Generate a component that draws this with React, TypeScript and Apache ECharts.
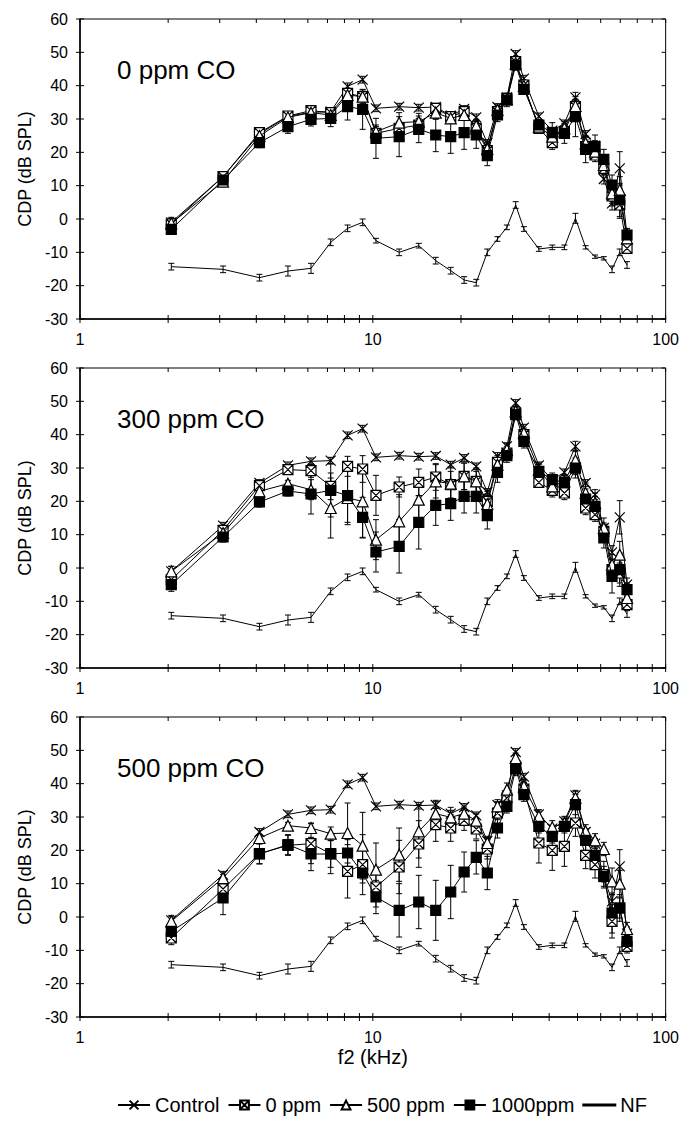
import React, { useEffect, useRef } from "react";
import * as echarts from "echarts";

// f2 frequencies (kHz)
const freqs = [2.05, 3.08, 4.1, 5.13, 6.15, 7.18, 8.2, 9.23, 10.25, 12.3, 14.35, 16.4, 18.45, 20.5, 22.55, 24.6, 26.65, 28.7, 30.75, 32.8, 36.9, 41, 45.1, 49.2, 53.3, 57.4, 61.5, 65.6, 69.7, 73.8];

const xTickVals = [1, 2, 3, 4, 5, 6, 7, 8, 9, 10, 20, 30, 40, 50, 60, 70, 80, 90, 100];
const yTickVals = [-30, -20, -10, 0, 10, 20, 30, 40, 50, 60];
const panelTitles = ["0 ppm CO", "300 ppm CO", "500 ppm CO"];
const seriesNames = ["Control", "0 ppm", "500 ppm", "1000ppm", "NF"];

// Control and noise floor (same in all panels)
const control = [-1, 12.7, 25.5, 30.8, 32, 32.2, 39.8, 41.8, 33.2, 33.7, 33.4, 33.6, 31, 33, 30.5, 22.8, 33.6, 36.5, 49.5, 42.1, 30.8, 26.5, 28.7, 36.5, 25.5, 22, 12, 4.7, 15.2, -5];
const controlErr = [1.5, 1, 1, 1, 1, 1, 1, 1, 1, 1, 1, 1, 1, 1, 1, 1, 1, 1, 1, 1, 1, 1, 1, 1.5, 1, 1.5, 1.5, 2, 5, 2];
const noiseFloor = [-14.3, -15.1, -17.6, -15.6, -14.8, -7, -2.8, -1, -6.5, -10, -8, -12.5, -15.5, -18.3, -19.1, -10, -6, -2.5, 4.2, -3, -9, -8.5, -8.5, 0.2, -8.5, -11.3, -11.8, -15.1, -10, -13.8];
const noiseFloorErr = [1, 1, 1, 1.5, 1.5, 1, 1, 1, 0.7, 1, 0.7, 1, 1, 1, 1, 1, 0.7, 0.7, 1, 0.7, 0.7, 0.7, 0.7, 1.5, 0.5, 0.5, 0.5, 1, 1, 1];

// Panel 1: 0 ppm CO
const p1Zero = [-1.5, 12.7, 25.9, 30.9, 32.5, 31.9, 37.7, 36.7, 25.7, 27.2, 28.2, 33.2, 30.7, 32.2, 27.2, 20.5, 32.2, 36.2, 47.2, 40.2, 27.2, 22.9, 26.2, 33.7, 21.7, 19.2, 15.2, 6.9, 4.2, -8.8];
const p1Five = [-1.3, 11.2, 24.9, 30.5, 31.9, 31.2, 37.2, 36.7, 26.2, 28.9, 29.2, 31.9, 30.2, 31.2, 27.9, 21, 32.7, 35.9, 46.7, 39.9, 27.7, 24.7, 27.2, 33.9, 22.7, 20.2, 16.2, 7.7, 8.7, -5.8];
const p1Thou = [-3.1, 11.7, 22.9, 27.7, 29.9, 30.2, 33.7, 32.9, 24.2, 24.7, 26.9, 25.2, 24.7, 25.9, 25.2, 19, 31.2, 35.7, 46.2, 38.9, 28.2, 25.9, 25.7, 30.7, 20.9, 21.7, 17.9, 10.2, 5.7, -4.8];
const p1ZeroErr = [1.5, 1, 1, 1, 1, 1, 1.5, 1.5, 2, 2, 2, 1.5, 1.5, 1.5, 2, 2, 1.5, 1.5, 1.5, 1.5, 1.5, 2, 2, 2, 2, 2, 2, 3, 4, 1];
const p1FiveErr = [1.5, 1, 1, 1, 1, 1, 1.5, 2, 2, 3, 2.5, 2, 1.5, 1.5, 2, 2, 1.5, 1.5, 1.5, 1.5, 1.5, 2, 2, 2, 2, 2, 2, 3, 4, 2];
const p1ThouErr = [1.5, 1, 1.5, 2, 2, 2.5, 4, 6, 6, 6, 4, 5, 5, 5, 4, 3, 2, 2, 1.5, 1.5, 1.5, 3, 3, 6, 4, 3.5, 3, 3, 5, 2];

// Panel 2: 300 ppm CO
const p2Zero = [-3.5, 11.3, 24.7, 29.5, 29.2, 24.5, 30.5, 29.7, 21.8, 24.3, 25.7, 27.3, 25, 27.5, 26, 20, 31.7, 34.5, 46.5, 40, 25.7, 23.3, 22.5, 30, 18, 16, 11, -0.5, -1.5, -11];
const p2Five = [-1, 10.5, 23, 25.3, 23.5, 18, 21, 20, 8.5, 14, 20.5, 26, 25.3, 27.5, 26, 19.2, 31, 35.5, 47, 40.5, 29.5, 24.5, 26, 32.3, 22.5, 19.5, 12, 1, 4, -9];
const p2Thou = [-5, 9.3, 19.8, 23.1, 22.2, 23.3, 21.7, 15.2, 4.8, 6.5, 13.7, 18.8, 19.3, 21.5, 21.5, 15.7, 28.7, 33.7, 46, 38, 29, 26.5, 25.7, 30, 20.7, 18.5, 9, -2.5, -0.5, -6.5];
const p2ZeroErr = [1.5, 1.5, 1, 1, 2, 4, 3, 4, 6, 3, 4, 4, 4, 4, 3, 3, 2, 2, 1.5, 1.5, 1.5, 2, 2, 2, 2, 2, 2, 2, 3, 1.5];
const p2FiveErr = [1.5, 1.5, 1, 1, 3, 9, 8, 11, 6, 8, 6, 5, 5, 4, 4, 3, 2, 2, 1.5, 1.5, 2, 2, 2, 3, 3, 3, 3, 3, 4, 2];
const p2ThouErr = [2, 1.5, 1.5, 1.5, 6, 8, 8, 6, 6, 8, 8, 6, 5, 5, 5, 4, 3, 2, 1.5, 2, 2, 2, 2, 3, 3, 3, 3, 5, 5, 2];

// Panel 3: 500 ppm CO
const p3Zero = [-6.3, 8.4, 19, 21.5, 22, 19, 13.7, 15.7, 9, 15, 21.9, 27.7, 26.7, 29, 26.4, 20.4, 31.2, 35.7, 45.2, 38.4, 22.2, 20, 21.2, 28.2, 18.5, 15.7, 12.7, -1.3, 2.7, -8.8];
const p3Five = [-1.3, 11.7, 23.7, 27.4, 26.7, 25, 25.2, 21.4, 14.2, 18.7, 25.7, 31, 29.9, 31, 28.9, 22.2, 33.2, 38.2, 47.7, 39.2, 30.2, 26.9, 28.2, 35.7, 25.7, 23, 20.4, 10.7, 10, -3.6];
const p3Thou = [-4.3, 5.7, 18.9, 21.7, 18.9, 18.9, 19.2, 13.2, 6, 2, 4.5, 2, 7.5, 13.5, 17.9, 13.2, 26.7, 33.2, 44.4, 36.7, 27.2, 24.2, 27.2, 33.7, 23, 18.5, 12.2, 1.2, 2.7, -7.3];
const p3ZeroErr = [2, 2, 3, 3, 6, 6, 8, 9, 6, 8, 7, 5, 4, 3, 3, 3, 2, 2, 2, 2, 6, 6, 6, 4, 4, 4, 4, 5, 3, 2];
const p3FiveErr = [1.5, 1, 1, 1, 1.5, 2, 9, 10, 8, 8, 8, 4, 3, 2, 2, 2, 2, 2, 1.5, 2, 2, 2, 2, 2, 2, 2, 2, 4, 4, 2];
const p3ThouErr = [2, 5, 3, 3, 5, 4, 4, 3, 5, 8, 8, 9, 8, 6, 5, 5, 3, 2, 2, 2, 2, 2, 2, 3, 3, 3, 3, 6, 4, 2];

const FONT = "'Liberation Sans', Arial, Helvetica, sans-serif";
const SYM_CROSS = "path://M0,0L10,10M10,0L0,10";
const SYM_XBOX = "path://M0,0L10,0L10,10L0,10Z M0,0L10,10 M10,0L0,10";
const SYM_DASH = "path://M0,0H30V1H0Z";

export default function App() {
  const ref = useRef<HTMLDivElement>(null);
  useEffect(() => {
    document.body.style.margin = "0";
    const chart = echarts.init(ref.current as HTMLDivElement, null, { renderer: "svg" });

    const panels = [
      { vals: [control, p1Zero, p1Five, p1Thou, noiseFloor], errs: [controlErr, p1ZeroErr, p1FiveErr, p1ThouErr, noiseFloorErr] },
      { vals: [control, p2Zero, p2Five, p2Thou, noiseFloor], errs: [controlErr, p2ZeroErr, p2FiveErr, p2ThouErr, noiseFloorErr] },
      { vals: [control, p3Zero, p3Five, p3Thou, noiseFloor], errs: [controlErr, p3ZeroErr, p3FiveErr, p3ThouErr, noiseFloorErr] },
    ];
    const tops = [19, 368, 717];
    const plotH = 300;

    const styles = [
      { symbol: SYM_CROSS, size: 10, fill: "#fff" },
      { symbol: SYM_XBOX, size: 10, fill: "#fff" },
      { symbol: "triangle", size: 11, fill: "#fff" },
      { symbol: "rect", size: 10, fill: "#000" },
      { symbol: "none", size: 0, fill: "#000" },
    ];

    const grids: any[] = [];
    const xAxes: any[] = [];
    const yAxes: any[] = [];
    const series: any[] = [];
    const graphics: any[] = [];

    panels.forEach((p, gi) => {
      grids.push({ left: 80, width: 590, top: tops[gi], height: plotH, show: true, borderColor: "#000", borderWidth: 1, backgroundColor: "transparent" });
      xAxes.push({
        type: "log", logBase: 10, min: 1, max: 100, gridIndex: gi,
        axisLine: { show: true, onZero: false, lineStyle: { color: "#000", width: 1.5 } },
        axisTick: { show: false }, splitLine: { show: false }, minorTick: { show: false },
        axisLabel: { color: "#000", fontSize: 16, fontFamily: FONT, margin: 12 },
        ...(gi === 2 ? { name: "f2 (kHz)", nameLocation: "middle", nameGap: 30, nameTextStyle: { color: "#000", fontSize: 20, fontFamily: FONT } } : {}),
      });
      yAxes.push({
        type: "value", min: -30, max: 60, interval: 10, gridIndex: gi,
        axisLine: { show: true, onZero: false, lineStyle: { color: "#000", width: 1.5 } },
        axisTick: { show: false }, splitLine: { show: false },
        axisLabel: { color: "#000", fontSize: 16, fontFamily: FONT, margin: 12 },
        name: "CDP (dB SPL)", nameLocation: "middle", nameGap: 46,
        nameTextStyle: { color: "#000", fontSize: 18, fontFamily: FONT },
      });

      // error bars
      const errData: number[][] = [];
      p.vals.forEach((vals, si) => {
        vals.forEach((v, i) => {
          const e = p.errs[si][i];
          errData.push([freqs[i], v - e, v + e]);
        });
      });
      series.push({
        type: "custom", name: "errbars", xAxisIndex: gi, yAxisIndex: gi, silent: true, z: 1,
        encode: { x: 0, y: [1, 2] },
        data: errData,
        renderItem: (params: any, api: any) => {
          const x = api.value(0);
          const a = api.coord([x, api.value(1)]);
          const b = api.coord([x, api.value(2)]);
          const w = 3;
          const st = { stroke: "#000", lineWidth: 1 };
          return {
            type: "group",
            children: [
              { type: "line", shape: { x1: a[0], y1: a[1], x2: b[0], y2: b[1] }, style: st },
              { type: "line", shape: { x1: a[0] - w, y1: a[1], x2: a[0] + w, y2: a[1] }, style: st },
              { type: "line", shape: { x1: b[0] - w, y1: b[1], x2: b[0] + w, y2: b[1] }, style: st },
            ],
          };
        },
      });

      p.vals.forEach((vals, si) => {
        const s = styles[si];
        series.push({
          type: "line", name: seriesNames[si], xAxisIndex: gi, yAxisIndex: gi, z: 2 + si,
          data: vals.map((v, i) => [freqs[i], v]),
          symbol: s.symbol, symbolSize: s.size, showSymbol: s.symbol !== "none",
          lineStyle: { color: "#000", width: 1 },
          itemStyle: { color: s.fill, borderColor: "#000", borderWidth: 1.2 },
          emphasis: { disabled: true },
        });
      });

      // frame ticks
      const tickData: number[][] = [];
      xTickVals.forEach((f) => tickData.push([f, -30, 0]));
      yTickVals.forEach((v) => tickData.push([1, v, 1]));
      series.push({
        type: "custom", name: "ticks", xAxisIndex: gi, yAxisIndex: gi, silent: true, z: 10,
        encode: { x: 0, y: 1 },
        data: tickData,
        renderItem: (params: any, api: any) => {
          const kind = api.value(2);
          const st = { stroke: "#000", lineWidth: 1 };
          if (kind === 0) {
            const f = api.value(0);
            const b = api.coord([f, -30]);
            const t = api.coord([f, 60]);
            return {
              type: "group",
              children: [
                { type: "line", shape: { x1: b[0], y1: b[1] - 4, x2: b[0], y2: b[1] + 4 }, style: st },
                { type: "line", shape: { x1: t[0], y1: t[1], x2: t[0], y2: t[1] + 4 }, style: st },
              ],
            };
          }
          const v = api.value(1);
          const l = api.coord([1, v]);
          const r = api.coord([100, v]);
          return {
            type: "group",
            children: [
              { type: "line", shape: { x1: l[0] - 4, y1: l[1], x2: l[0] + 4, y2: l[1] }, style: st },
              { type: "line", shape: { x1: r[0] - 4, y1: r[1], x2: r[0], y2: r[1] }, style: st },
            ],
          };
        },
      });

      graphics.push({
        type: "text", left: 117, top: tops[gi] + 38,
        style: { text: panelTitles[gi], fill: "#000", font: `26px ${FONT}` },
      });
    });

    const option: any = {
      animation: false,
      backgroundColor: "#fff",
      grid: grids,
      xAxis: xAxes,
      yAxis: yAxes,
      series,
      graphic: graphics,
      legend: {
        data: [
          { name: "Control" },
          { name: "0 ppm" },
          { name: "500 ppm" },
          { name: "1000ppm" },
          { name: "NF", icon: SYM_DASH },
        ],
        left: 112, top: 1090,
        itemWidth: 32, itemHeight: 11, itemGap: 8,
        textStyle: { color: "#000", fontSize: 20, fontFamily: FONT },
        selectedMode: false,
      },
    };
    chart.setOption(option);
    return () => chart.dispose();
  }, []);
  return <div ref={ref} style={{ width: 682, height: 1124 }} />;
}
